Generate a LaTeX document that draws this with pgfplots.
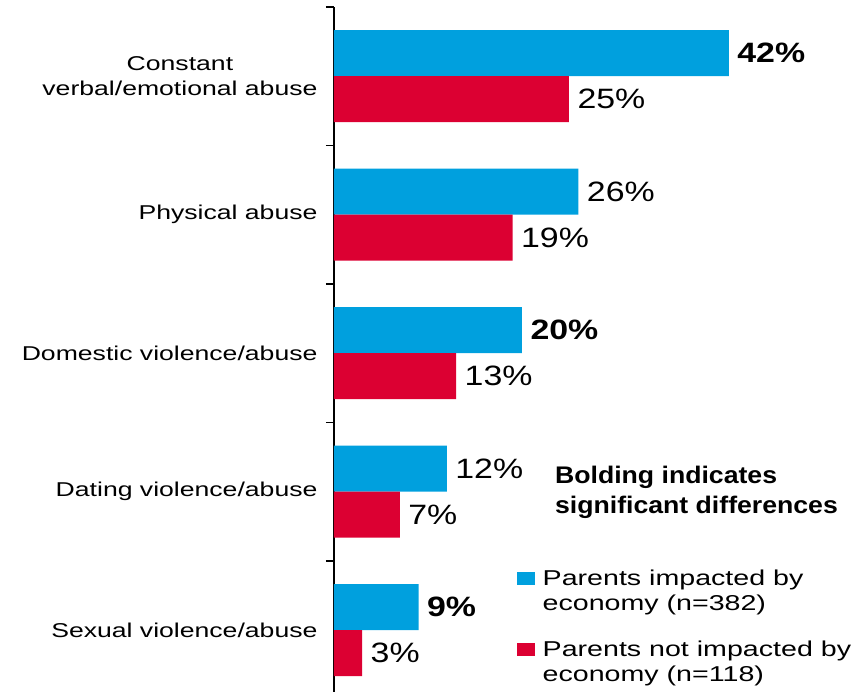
\documentclass[border=0pt]{standalone}
\usepackage{pgfplots}
\pgfplotsset{compat=1.18}
\usepackage{fontspec}
\setmainfont{Liberation Sans}[FakeStretch=1.21]
\newfontfamily\catfont{Liberation Sans}[FakeStretch=1.33]
\newfontfamily\notefont{Liberation Sans Bold}[FakeStretch=1.11]
\definecolor{barblue}{RGB}{0,160,222}
\definecolor{barred}{RGB}{220,0,50}
\begin{document}
\begin{tikzpicture}
\useasboundingbox (0pt,0pt) rectangle (865pt,-692pt);
\begin{axis}[
  at={(334pt,-7pt)}, anchor=north west,
  scale only axis, width=470pt, height=685pt,
  xmin=0, xmax=50, ymin=-0.446, ymax=4.5,
  xbar, bar width=46pt,
  axis x line=none,
  axis y line=left,
  y axis line style={-, line width=1.6pt},
  ytick={0,1,2,3,4},
  yticklabels={Sexual violence/abuse, Dating violence/abuse, Domestic violence/abuse, Physical abuse, {Constant\\verbal/emotional abuse}},
  yticklabel style={align=center, font=\catfont\fontsize{20}{25}\selectfont, xshift=-13pt},
  major tick length=0pt,
  minor ytick={0.5,1.5,2.5,3.5,4.5},
  minor tick length=8pt,
  tick align=outside,
  minor tick style={line width=1.4pt, black},
  clip=false,
  point meta=explicit symbolic,
  nodes near coords={\pgfplotspointmeta},
  nodes near coords style={anchor=west, font=\fontsize{28}{30}\selectfont, xshift=5pt},
  legend style={draw=none, fill=none, at={(0.382,0.185)}, anchor=north west,
    cells={anchor=west}, row sep=25pt,
    /tikz/every odd column/.append style={column sep=6pt},
    nodes={align=left, font=\catfont\fontsize{21.5}{25}\selectfont, inner sep=2pt}},
  legend image code/.code={\fill[#1, draw=none] (0pt,6pt) rectangle (18pt,19pt);},
]
\addplot[fill=barblue, draw=none, bar shift=23pt] coordinates {
  (9,0) [\textbf{9\%}]
  (12,1) [12\%]
  (20,2) [\textbf{20\%}]
  (26,3) [26\%]
  (42,4) [\textbf{42\%}]
};
\addlegendentry{Parents impacted by\\economy (n=382)}
\addplot[fill=barred, draw=none, bar shift=-23pt] coordinates {
  (3,0) [3\%]
  (7,1) [7\%]
  (13,2) [13\%]
  (19,3) [19\%]
  (25,4) [25\%]
};
\addlegendentry{Parents not impacted by\\economy (n=118)}
\node[anchor=north west, align=left, font=\notefont\fontsize{24}{30}\selectfont, inner sep=0pt]
  at (axis description cs:0.470,0.330) {Bolding indicates\\significant differences};
\end{axis}
\end{tikzpicture}
\end{document}
